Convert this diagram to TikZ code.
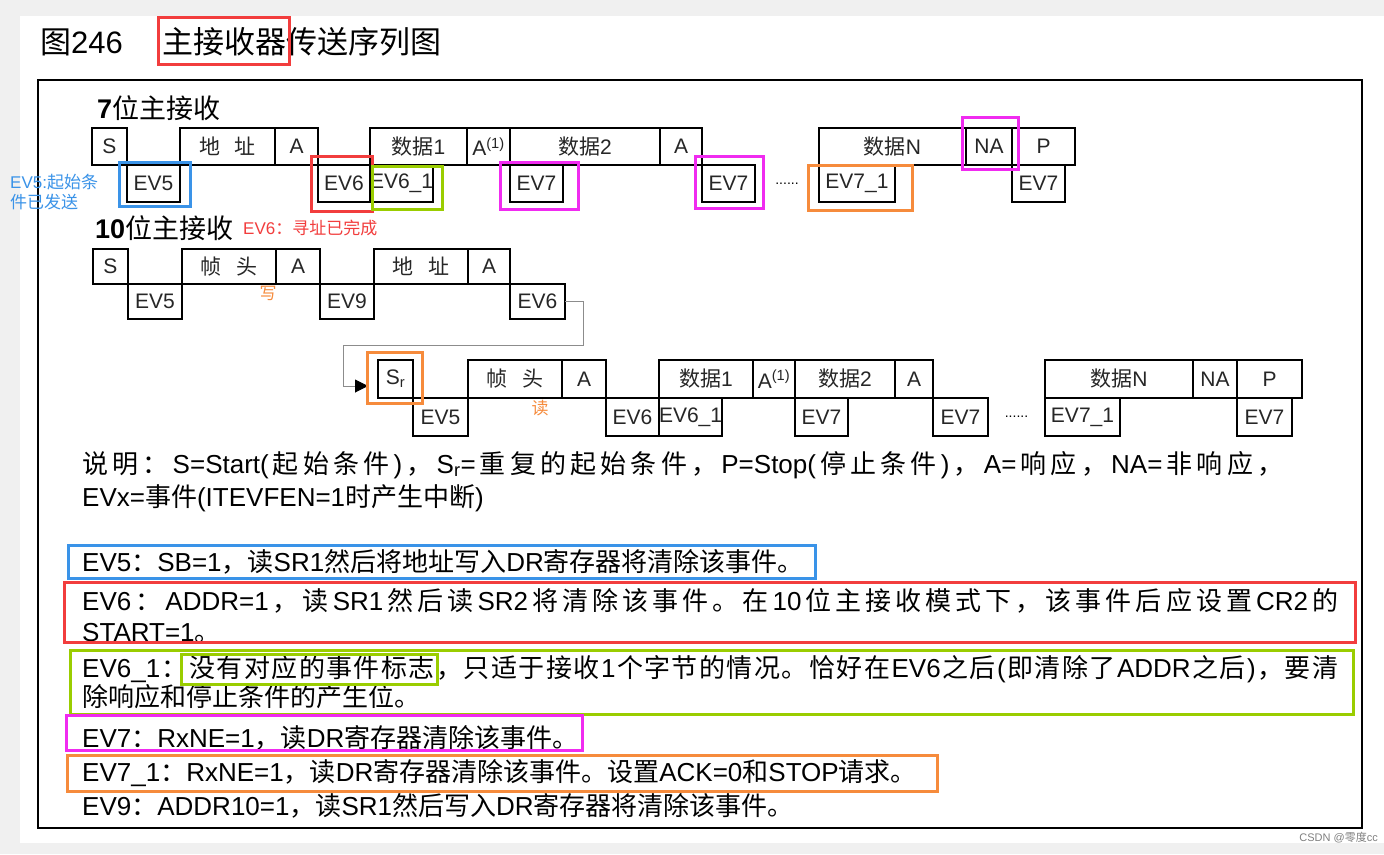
\documentclass[tikz,border=0pt]{standalone}
\usepackage{fontspec}
\setmainfont{Liberation Sans}
\newfontfamily\cjk{Noto Sans CJK SC}
\usepackage{tikz}
\usetikzlibrary{positioning, arrows.meta, calc}
\usepackage{xcolor}
\definecolor{pagegray}{HTML}{F0F0F0}
\definecolor{markblue}{HTML}{3A93E8}
\definecolor{markred}{HTML}{F23D3D}
\definecolor{markgreen}{HTML}{9ACD00}
\definecolor{markpink}{HTML}{F02BF0}
\definecolor{markorange}{HTML}{F68B3C}

% Chinese characters switch to the CJK font by themselves
\XeTeXinterchartokenstate=1
\newXeTeXintercharclass\cjkclass
\newcount\cjkchar
\def\setcjkrange#1#2{\cjkchar=#1\relax
  \loop\XeTeXcharclass\cjkchar=\cjkclass
  \ifnum\cjkchar<#2\advance\cjkchar by 1\repeat}
\setcjkrange{"3000}{"303F}
\setcjkrange{"4E00}{"9FFF}
\setcjkrange{"FF00}{"FFEF}
\XeTeXinterchartoks 0 \cjkclass = {\hskip0pt plus .5em\begingroup\cjk}
\XeTeXinterchartoks 4095 \cjkclass = {\begingroup\cjk}
\XeTeXinterchartoks \cjkclass 0 = {\endgroup\hskip0pt plus .5em\relax}
\XeTeXinterchartoks \cjkclass 4095 = {\endgroup}
\XeTeXinterchartoks \cjkclass \cjkclass = {\hskip0pt plus .5em\relax}

\begin{document}
\begin{tikzpicture}[x=1pt, y=-1pt,
  cell/.style={draw, line width=2.5pt, inner sep=0pt, outer sep=0pt, text=black!85, font=\fontsize{21}{24}\selectfont},
  hone/.style={cell, minimum height=37pt},
  htwo/.style={cell, minimum height=35pt},
  hthree/.style={cell, minimum height=38pt},
  body/.style={anchor=base west, inner sep=0pt, font=\fontsize{26}{30}\selectfont},
  note/.style={inner sep=0pt, font=\fontsize{17}{20}\selectfont},
  hilite/.style={line width=3pt},
  link/.style={draw=black!45, line width=1pt, -{Triangle[length=13pt, width=13pt, black]}, shorten >=10pt}]

\useasboundingbox (0,0) rectangle (1384,854);
\fill[pagegray] (0,0) rectangle (1384,854);
\fill[white] (20,16) rectangle (1384,843);
\draw[line width=2pt] (38,80) rectangle (1362,828);

% Title
\node[anchor=base west, inner sep=0pt, font=\fontsize{31}{34}\selectfont] (title) at (40,53) {图246\hspace{40pt}主接收器传送序列图};

% 7-bit master receiver
\node[anchor=base west, inner sep=0pt, font=\fontsize{27}{30}\selectfont] (t7) at (97,118) {\textbf{7}位主接收};
\node[hone, minimum width=35pt, anchor=north west] (a-s) at (92,128) {S};
\node[hone, minimum width=53pt, anchor=north west] (a-ev5) at (a-s.south east) {EV5};
\node[hone, minimum width=95pt, anchor=south west] (a-addr) at (a-ev5.north east) {地\hspace{.7em}址};
\node[hone, minimum width=43pt, right=0pt of a-addr] (a-ack) {A};
\node[hone, minimum width=52pt, anchor=north west] (a-ev6) at (a-ack.south east) {EV6};
\node[hone, minimum width=97pt, anchor=south west] (a-d1) at (a-ev6.north east) {数据1};
\node[hone, minimum width=62pt, anchor=north west] (a-ev61) at (a-d1.south west) {EV6\_1};
\node[hone, minimum width=43pt, right=0pt of a-d1] (a-ack1) {A\textsuperscript{(1)}};
\node[hone, minimum width=150pt, right=0pt of a-ack1] (a-d2) {数据2};
\node[hone, minimum width=53pt, anchor=north west] (a-ev7) at (a-d2.south west) {EV7};
\node[hone, minimum width=42pt, right=0pt of a-d2] (a-ack2) {A};
\node[hone, minimum width=53pt, anchor=north west] (a-ev7b) at (a-ack2.south east) {EV7};
\node[hone, minimum width=147pt, anchor=south west] (a-dn) at ([xshift=64pt]a-ev7b.north east) {数据N};
\node[hone, minimum width=76pt, anchor=north west] (a-ev71) at (a-dn.south west) {EV7\_1};
\node[hone, minimum width=46pt, right=0pt of a-dn] (a-nack) {NA};
\node[hone, minimum width=63pt, right=0pt of a-nack] (a-stop) {P};
\node[hone, minimum width=53pt, anchor=north west] (a-ev7c) at (a-stop.south west) {EV7};
\node[font=\fontsize{14}{16}\selectfont] (a-dots) at ($(a-ev7b.east)!.5!(a-ev71.west)$) {......};

% 10-bit master receiver
\node[anchor=base west, inner sep=0pt, font=\fontsize{27}{30}\selectfont] (t10) at (95,238) {\textbf{10}位主接收};
\node[htwo, minimum width=35pt, anchor=north west] (b-s) at (93,249) {S};
\node[htwo, minimum width=54pt, anchor=north west] (b-ev5) at (b-s.south east) {EV5};
\node[htwo, minimum width=94pt, anchor=south west] (b-head) at (b-ev5.north east) {帧\hspace{.7em}头};
\node[htwo, minimum width=44pt, right=0pt of b-head] (b-ack) {A};
\node[htwo, minimum width=54pt, anchor=north west] (b-ev9) at (b-ack.south east) {EV9};
\node[htwo, minimum width=94pt, anchor=south west] (b-addr) at (b-ev9.north east) {地\hspace{.7em}址};
\node[htwo, minimum width=42pt, right=0pt of b-addr] (b-ack2) {A};
\node[htwo, minimum width=55pt, anchor=north west] (b-ev6) at (b-ack2.south east) {EV6};

% repeated start, then read
\node[hthree, minimum width=35pt, anchor=north west] (c-sr) at (378,360) {S\textsubscript{r}};
\node[hthree, minimum width=55pt, anchor=north west] (c-ev5) at (c-sr.south east) {EV5};
\node[hthree, minimum width=94pt, anchor=south west] (c-head) at (c-ev5.north east) {帧\hspace{.7em}头};
\node[hthree, minimum width=44pt, right=0pt of c-head] (c-ack) {A};
\node[hthree, minimum width=53pt, anchor=north west] (c-ev6) at (c-ack.south east) {EV6};
\node[hthree, minimum width=94pt, anchor=south west] (c-d1) at (c-ev6.north east) {数据1};
\node[hthree, minimum width=61pt, anchor=north west] (c-ev61) at (c-d1.south west) {EV6\_1};
\node[hthree, minimum width=42pt, right=0pt of c-d1] (c-ack1) {A\textsuperscript{(1)}};
\node[hthree, minimum width=100pt, right=0pt of c-ack1] (c-d2) {数据2};
\node[hthree, minimum width=53pt, anchor=north west] (c-ev7) at (c-d2.south west) {EV7};
\node[hthree, minimum width=38pt, right=0pt of c-d2] (c-ack2) {A};
\node[hthree, minimum width=55pt, anchor=north west] (c-ev7b) at (c-ack2.south east) {EV7};
\node[hthree, minimum width=148pt, anchor=south west] (c-dn) at ([xshift=57pt]c-ev7b.north east) {数据N};
\node[hthree, minimum width=75pt, anchor=north west] (c-ev71) at (c-dn.south west) {EV7\_1};
\node[hthree, minimum width=44pt, right=0pt of c-dn] (c-nack) {NA};
\node[hthree, minimum width=65pt, right=0pt of c-nack] (c-stop) {P};
\node[hthree, minimum width=55pt, anchor=north west] (c-ev7c) at (c-stop.south west) {EV7};
\node[font=\fontsize{14}{16}\selectfont] (c-dots) at ($(c-ev7b.east)!.5!(c-ev71.west)$) {......};

% EV6 leads on to the repeated start
\coordinate (bend1) at (583,345);
\coordinate (bend2) at (343,345);
\draw[link] (b-ev6.east) -| (bend1) -- (bend2) |- ([yshift=-7pt]c-sr.west);

% notes added by hand
\node[note, text=markblue, align=left, anchor=north west] (n-ev5) at (10,174) {EV5:起始条\\件已发送};
\node[note, text=markred, anchor=base west] (n-ev6) at (243,234) {EV6：寻址已完成};
\node[note, text=markorange] (n-write) at (268,293) {写};
\node[note, text=markorange] (n-read) at (540,408) {读};

% legend
\node[body] (legend1) at (82,473) {\hbox to 1201pt{说明：S=Start(起始条件)，S\textsubscript{r}=重复的起始条件，P=Stop(停止条件)，A=响应，NA=非响应，}};
\node[body] (legend2) at (82,506) {EVx=事件(ITEVFEN=1时产生中断)};
\node[body] (d-ev5) at (82,571) {EV5：SB=1，读SR1然后将地址写入DR寄存器将清除该事件。};
\node[body] (d-ev6) at (82,610) {\hbox to 1256pt{EV6：ADDR=1，读SR1然后读SR2将清除该事件。在10位主接收模式下，该事件后应设置CR2的}};
\node[body] (d-ev6b) at (82,641) {START=1。};
\node[body] (d-ev61) at (82,677) {\hbox to 1256pt{EV6\_1：没有对应的事件标志，只适于接收1个字节的情况。恰好在EV6之后(即清除了ADDR之后)，要清}};
\node[body] (d-ev61b) at (82,706) {除响应和停止条件的产生位。};
\node[body] (d-ev7) at (82,747) {EV7：RxNE=1，读DR寄存器清除该事件。};
\node[body] (d-ev71) at (82,781) {EV7\_1：RxNE=1，读DR寄存器清除该事件。设置ACK=0和STOP请求。};
\node[body] (d-ev9) at (82,815) {EV9：ADDR10=1，读SR1然后写入DR寄存器将清除该事件。};

% coloured marks
\draw[hilite, markred] (158,17) rectangle (289,64);
\draw[hilite, markblue] (119,162) rectangle (190,206);
\draw[hilite, markred] (311,156) rectangle (372,211);
\draw[hilite, markgreen] (372,166) rectangle (442,209);
\draw[hilite, markpink] (500,162) rectangle (578,209);
\draw[hilite, markpink] (695,156) rectangle (763,208);
\draw[hilite, markorange] (808,165) rectangle (912,210);
\draw[hilite, markpink] (962,117) rectangle (1018,169);
\draw[hilite, markorange] (367,352) rectangle (422,403);
\draw[hilite, markblue] (68,545) rectangle (815,578);
\draw[hilite, markred] (64,582) rectangle (1355,642);
\draw[hilite, markgreen] (70,650) rectangle (1353,714);
\draw[hilite, markgreen] (181,654) rectangle (437,684);
\draw[hilite, markpink] (66,715) rectangle (582,750);
\draw[hilite, markorange] (67,755) rectangle (937,791);

\node[anchor=east, inner sep=0pt, text=black!50, font=\fontsize{11}{13}\selectfont] (wm) at (1378,838) {CSDN @零度cc};
\end{tikzpicture}
\end{document}
